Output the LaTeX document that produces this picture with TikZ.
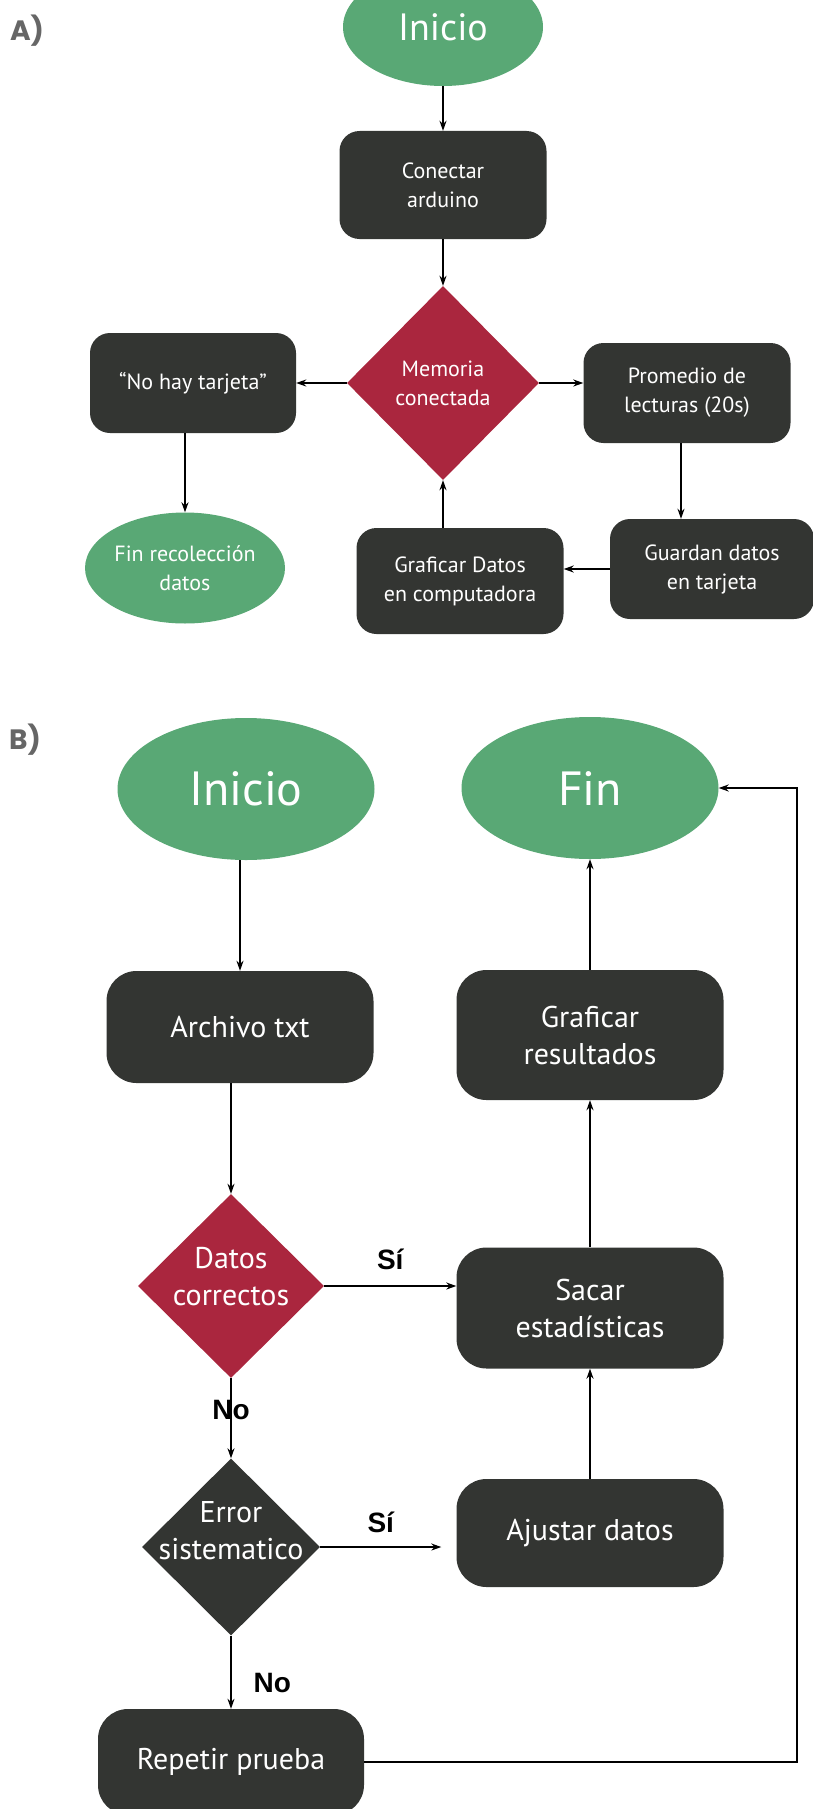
\documentclass[tikz,border=0pt]{standalone}
\usepackage{fontspec}
\setmainfont{PT Sans}
\newfontfamily\respfont{Liberation Sans}
\newfontfamily\panelfont{Poppins}
\usetikzlibrary{shapes.geometric,arrows.meta}
\definecolor{verde}{HTML}{59A875}
\definecolor{gris}{HTML}{333532}
\definecolor{vino}{HTML}{AA263E}
\definecolor{panelgris}{HTML}{666666}
\tikzset{
  inicio/.style={ellipse, fill=verde, text=white, align=center, inner sep=0pt},
  caja/.style={rectangle, rounded corners=20pt, fill=gris, text=white, align=center, inner sep=0pt},
  decision/.style={diamond, fill=vino, inner sep=0pt},
  dtexto/.style={text=white, align=center, inner sep=0pt},
  flecha/.style={-{Stealth[length=10pt,width=7pt]}, line width=1.4pt},
  sino/.style={font=\respfont\bfseries\fontsize{28}{30}\selectfont, inner sep=0pt},
  panel/.style={text=panelgris, font=\panelfont\bfseries\fontsize{28}{30}\selectfont},
  chico/.style={font=\fontsize{22}{29}\selectfont},
  grande/.style={font=\fontsize{30}{37}\selectfont},
}
\begin{document}
\begin{tikzpicture}[x=1pt, y=-1pt]
\useasboundingbox (0,0) rectangle (813,1809);
% A)
\node[panel] (pa) at (27,31) {A)};
\node[inicio, chico, minimum width=200pt, minimum height=118pt, font=\fontsize{38}{40}\selectfont] (inicioA) at (443,27) {Inicio};
\node[caja, chico, minimum width=207pt, minimum height=108pt] (conectar) at (443,185) {Conectar\\arduino};
\node[decision, minimum width=192pt, minimum height=194pt, label={[dtexto, chico]center:Memoria\\conectada}] (memoria) at (443,383) {};
\node[caja, chico, minimum width=206pt, minimum height=100pt] (notarjeta) at (193,383) {“No hay tarjeta”};
\node[caja, chico, minimum width=207pt, minimum height=100pt] (promedio) at (687,393) {Promedio de\\lecturas (20s)};
\node[caja, chico, minimum width=204pt, minimum height=100pt] (guardan) at (712,569) {Guardan datos\\en tarjeta};
\node[caja, chico, minimum width=207pt, minimum height=106pt] (graficarA) at (460,581) {Graficar Datos\\en computadora};
\node[inicio, chico, minimum width=200pt, minimum height=111pt] (finrec) at (185,568) {Fin recolección\\datos};
\draw[flecha] (inicioA.south) -- (conectar.north);
\draw[flecha] (conectar.south) -- (memoria.north);
\draw[flecha] (memoria.west) -- (notarjeta.east);
\draw[flecha] (memoria.east) -- (promedio.west |- memoria.east);
\draw[flecha] ([xshift=-6pt]promedio.south) -- ([xshift=-6pt]promedio.south |- guardan.north);
\draw[flecha] (guardan.west) -- (graficarA.east |- guardan.west);
\draw[flecha] (graficarA.north -| memoria.south) -- (memoria.south);
\draw[flecha] (notarjeta.south -| finrec.north) -- (finrec.north);
% B)
\node[panel] (pb) at (25,740) {B)};
\node[inicio, minimum width=257pt, minimum height=142pt, font=\fontsize{48}{50}\selectfont] (inicioB) at (246,789) {Inicio};
\node[inicio, minimum width=257pt, minimum height=142pt, font=\fontsize{48}{50}\selectfont] (fin) at (590,788) {Fin};
\node[caja, grande, rounded corners=30pt, minimum width=267pt, minimum height=112pt] (archivo) at (240,1027) {Archivo txt};
\node[caja, grande, rounded corners=30pt, minimum width=267pt, minimum height=130pt] (graficarB) at (590,1035) {Graficar\\resultados};
\node[decision, minimum width=186pt, minimum height=184pt, label={[dtexto, grande, yshift=9pt]center:Datos\\correctos}] (datos) at (231,1286) {};
\node[caja, grande, rounded corners=30pt, minimum width=267pt, minimum height=121pt] (sacar) at (590,1308) {Sacar\\estadísticas};
\node[decision, fill=gris, minimum width=178pt, minimum height=177pt, label={[dtexto, grande, yshift=16pt]center:Error\\sistematico}] (error) at (231,1547) {};
\node[caja, grande, rounded corners=30pt, minimum width=267pt, minimum height=108pt] (ajustar) at (590,1533) {Ajustar datos};
\node[caja, grande, rounded corners=30pt, minimum width=266pt, minimum height=106pt] (repetir) at (231,1762) {Repetir prueba};
\coordinate (vuelta) at (797,788);
\draw[flecha] (inicioB.south -| archivo.north) -- (archivo.north);
\draw[flecha] (graficarB.north) -- (fin.south);
\draw[flecha] (archivo.south -| datos.north) -- (datos.north);
\draw[flecha] (datos.east) -- (sacar.west |- datos.east) node[sino, midway, above=16pt] {Sí};
\draw[flecha] (datos.south) -- (error.north) node[sino, pos=0.4] {No};
\draw[flecha] (error.east) -- ([xshift=-15pt]ajustar.west |- error.east) node[sino, midway, above=14pt] {Sí};
\draw[flecha] (error.south) -- (repetir.north) node[sino, pos=0.65, right=22pt] {No};
\draw[flecha] (ajustar.north) -- (sacar.south);
\draw[flecha] (sacar.north) -- (graficarB.south);
\draw[flecha] (repetir.east) -- (vuelta |- repetir.east) -- (vuelta) -- (fin.east);
\end{tikzpicture}
\end{document}
